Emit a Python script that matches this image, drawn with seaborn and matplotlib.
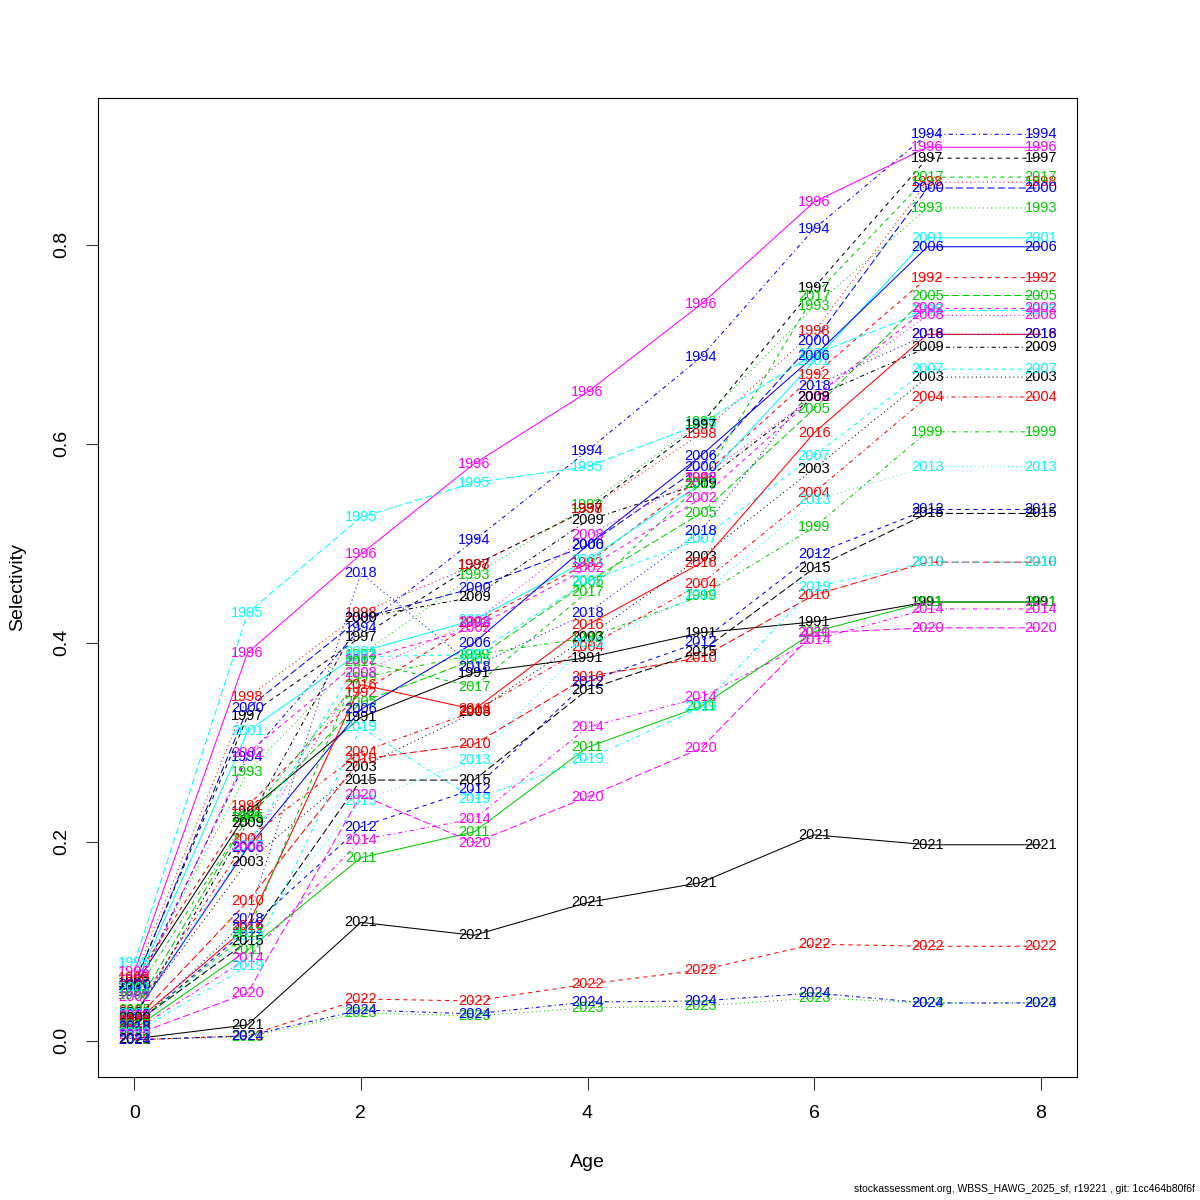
import numpy as np
import pandas as pd
import matplotlib
matplotlib.use("Agg")
import matplotlib.pyplot as plt
import seaborn as sns

ages = [0, 1, 2, 3, 4, 5, 6, 7, 8]
years = list(range(1991, 2025))

sel = {
    1991: [0.055, 0.230, 0.325, 0.370, 0.385, 0.410, 0.421, 0.441, 0.441],
    1992: [0.061, 0.236, 0.350, 0.420, 0.480, 0.566, 0.669, 0.767, 0.767],
    1993: [0.052, 0.270, 0.388, 0.468, 0.538, 0.622, 0.738, 0.837, 0.837],
    1994: [0.049, 0.285, 0.415, 0.503, 0.593, 0.687, 0.816, 0.911, 0.911],
    1995: [0.078, 0.430, 0.526, 0.561, 0.577, 0.620, 0.690, 0.734, 0.734],
    1996: [0.069, 0.390, 0.489, 0.580, 0.652, 0.740, 0.843, 0.898, 0.898],
    1997: [0.058, 0.326, 0.406, 0.478, 0.534, 0.619, 0.757, 0.887, 0.887],
    1998: [0.063, 0.345, 0.430, 0.478, 0.534, 0.610, 0.713, 0.863, 0.863],
    1999: [0.046, 0.225, 0.365, 0.388, 0.405, 0.447, 0.516, 0.612, 0.612],
    2000: [0.056, 0.334, 0.425, 0.455, 0.498, 0.577, 0.703, 0.857, 0.857],
    2001: [0.053, 0.311, 0.391, 0.423, 0.483, 0.560, 0.683, 0.807, 0.807],
    2002: [0.044, 0.289, 0.383, 0.415, 0.475, 0.545, 0.647, 0.736, 0.736],
    2003: [0.028, 0.180, 0.275, 0.330, 0.406, 0.486, 0.575, 0.667, 0.667],
    2004: [0.030, 0.203, 0.290, 0.331, 0.396, 0.459, 0.551, 0.647, 0.647],
    2005: [0.031, 0.224, 0.340, 0.383, 0.461, 0.530, 0.635, 0.749, 0.749],
    2006: [0.026, 0.194, 0.333, 0.400, 0.498, 0.588, 0.688, 0.798, 0.798],
    2007: [0.027, 0.196, 0.386, 0.388, 0.462, 0.504, 0.588, 0.675, 0.675],
    2008: [0.025, 0.195, 0.370, 0.421, 0.508, 0.566, 0.647, 0.729, 0.729],
    2009: [0.023, 0.219, 0.425, 0.446, 0.523, 0.560, 0.647, 0.697, 0.697],
    2010: [0.020, 0.140, 0.283, 0.298, 0.366, 0.385, 0.448, 0.481, 0.481],
    2011: [0.012, 0.091, 0.184, 0.210, 0.295, 0.336, 0.411, 0.441, 0.441],
    2012: [0.015, 0.112, 0.215, 0.253, 0.361, 0.401, 0.489, 0.534, 0.534],
    2013: [0.013, 0.105, 0.241, 0.282, 0.400, 0.448, 0.543, 0.577, 0.577],
    2014: [0.010, 0.083, 0.202, 0.223, 0.315, 0.345, 0.403, 0.434, 0.434],
    2015: [0.017, 0.100, 0.262, 0.262, 0.353, 0.391, 0.475, 0.530, 0.530],
    2016: [0.018, 0.115, 0.358, 0.333, 0.418, 0.480, 0.611, 0.710, 0.710],
    2017: [0.016, 0.108, 0.381, 0.356, 0.451, 0.560, 0.749, 0.868, 0.868],
    2018: [0.014, 0.122, 0.470, 0.376, 0.430, 0.512, 0.658, 0.710, 0.710],
    2019: [0.008, 0.075, 0.315, 0.243, 0.283, 0.335, 0.456, 0.481, 0.481],
    2020: [0.006, 0.048, 0.247, 0.199, 0.245, 0.294, 0.410, 0.415, 0.415],
    2021: [0.002, 0.016, 0.119, 0.106, 0.139, 0.159, 0.207, 0.197, 0.197],
    2022: [0.001, 0.005, 0.042, 0.040, 0.057, 0.071, 0.097, 0.095, 0.095],
    2023: [0.001, 0.004, 0.028, 0.025, 0.033, 0.035, 0.043, 0.038, 0.038],
    2024: [0.001, 0.005, 0.031, 0.027, 0.039, 0.040, 0.048, 0.038, 0.038],
}

y_ticks = [0.0, 0.2, 0.4, 0.6, 0.8]
y_tick_labels = ["0.0", "0.2", "0.4", "0.6", "0.8"]
x_ticks = [0, 2, 4, 6, 8]

# R matplot default cycles
r_cols = ["#000000", "#FF0000", "#00CD00", "#0000FF", "#00FFFF", "#FF00FF"]
r_ltys = ["", (4, 4), (1, 3), (1, 3, 4, 3), (7, 3)]

plt.rcParams["font.family"] = ["Liberation Sans", "DejaVu Sans"]

rows = []
for yr in years:
    for a, v in zip(ages, sel[yr]):
        rows.append({"year": str(yr), "age": a, "sel": v})
df = pd.DataFrame(rows)

palette = {str(yr): r_cols[i % 6] for i, yr in enumerate(years)}
dashes = {str(yr): r_ltys[i % 5] for i, yr in enumerate(years)}

fig = plt.figure(figsize=(12, 12), dpi=100)
ax = fig.add_axes([98 / 1200, 1 - 1077 / 1200, 979 / 1200, 979 / 1200])

sns.lineplot(data=df, x="age", y="sel", hue="year", style="year",
             palette=palette, dashes=dashes, legend=False, ax=ax,
             linewidth=0.75, estimator=None, sort=False)

for i, yr in enumerate(years):
    for a, v in zip(ages, sel[yr]):
        ax.text(a, v, str(yr), ha="center", va="center", fontsize=10.5,
                color=r_cols[i % 6], zorder=5)

ax.set_xlim(-0.32, 8.32)
ax.set_ylim(-0.0364, 0.9475)
ax.set_xticks(x_ticks)
ax.set_xticklabels([str(t) for t in x_ticks], fontsize=14)
ax.set_yticks(y_ticks)
ax.set_yticklabels(y_tick_labels, fontsize=14, rotation=90, va="center")
ax.tick_params(direction="out", length=9, width=0.8, pad=11, color="#333333")
for sp in ax.spines.values():
    sp.set_linewidth(0.8)
    sp.set_color("black")

ax.set_xlabel("Age", fontsize=14, va="center")
ax.xaxis.set_label_coords(0.5, -0.087)
ax.set_ylabel("Selectivity", fontsize=14, va="center")
ax.yaxis.set_label_coords(-0.082, 0.5)

fig.text(0.996, 0.005, "stockassessment.org, WBSS_HAWG_2025_sf, r19221 , git: 1cc464b80f6f",
         ha="right", va="bottom", fontsize=7.5,
         family=["Liberation Sans Narrow", "Liberation Sans", "DejaVu Sans"])

fig.savefig("out.png", dpi=100, facecolor="white")
